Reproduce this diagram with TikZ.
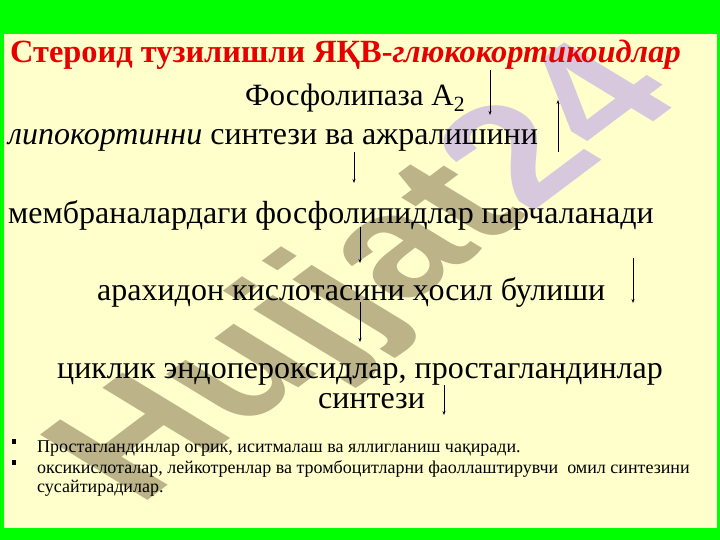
\documentclass[tikz,border=0pt]{standalone}
\usepackage{fontspec}
\setmainfont{Liberation Serif}
\newfontfamily\wmfont{Liberation Sans}
\usetikzlibrary{arrows.meta}

\definecolor{slidegreen}{RGB}{0,255,0}
\definecolor{slideyellow}{RGB}{255,255,204}
\definecolor{titlered}{RGB}{230,0,0}
\definecolor{wmgray}{RGB}{188,180,136}
\definecolor{wmpink}{RGB}{216,200,222}

\tikzset{
    line/.style={anchor=base west,inner sep=0pt,font=\fontsize{32}{32}\selectfont},
    bullet/.style={anchor=base west,inner sep=0pt,font=\fontsize{18}{21}\selectfont},
    arr/.style={-{Stealth[length=4pt,width=3pt]},line width=0.8pt}
}

\begin{document}
\begin{tikzpicture}[x=1pt,y=-1pt]
    \useasboundingbox (0,0) rectangle (720,540);
    % slide
    \fill[slidegreen] (0,0) rectangle (720,540);
    \fill[slideyellow] (4,34) rectangle (717,528);

    % watermark
    \begin{scope}
        \clip (4,34) rectangle (717,528);
        \node[xscale=1.48,rotate=48,inner sep=0pt] (wm) at (372,278)
            {\wmfont\bfseries\fontsize{142}{142}\selectfont\color{wmgray}Hujjat\color{wmpink}24};
    \end{scope}

    % title
    \node[anchor=base west,inner sep=0pt,text=titlered,font=\bfseries\fontsize{32.4}{32}\selectfont] (title) at (10,63)
        {Стероид тузилишли ЯҚВ-\textit{глюкокортикоидлар}};

    % chain
    \node[line,font=\fontsize{31}{31}\selectfont] (fla) at (245,106) {Фосфолипаза А\textsubscript{2}};
    \node[line] (lipo) at (8,145) {\textit{липокортинни} синтези ва ажралишини};
    \node[line] (memb) at (8,223) {мембраналардаги фосфолипидлар парчаланади};
    \node[line] (arax) at (97,300) {арахидон кислотасини ҳосил булиши};
    \node[line] (cycl) at (57,378) {циклик эндопероксидлар, простагландинлар};
    \node[line] (synt) at (318,408) {синтези};

    % arrows
    \foreach \n/\x/\ya/\yb in {1/490/70/115, 2/558/152/100, 3/354/152/183, 4/360/227/263,
                                5/633/258/303, 6/360/302/342, 7/444/385/415}{
        \coordinate (a\n s) at (\x,\ya);
        \coordinate (a\n e) at (\x,\yb);
        \draw[arr] (a\n s) -- (a\n e);
    }

    % notes
    \fill (12,439) rectangle (16,444);
    \fill (12,460) rectangle (16,465);
    \node[bullet] (n1) at (37,452) {Простагландинлар огрик, иситмалаш ва яллигланиш чақиради.};
    \node[bullet] (n2) at (37,473) {оксикислоталар, лейкотренлар ва тромбоцитларни фаоллаштирувчи\ \ омил синтезини};
    \node[bullet] (n3) at (37,492) {сусайтирадилар.};
\end{tikzpicture}
\end{document}
